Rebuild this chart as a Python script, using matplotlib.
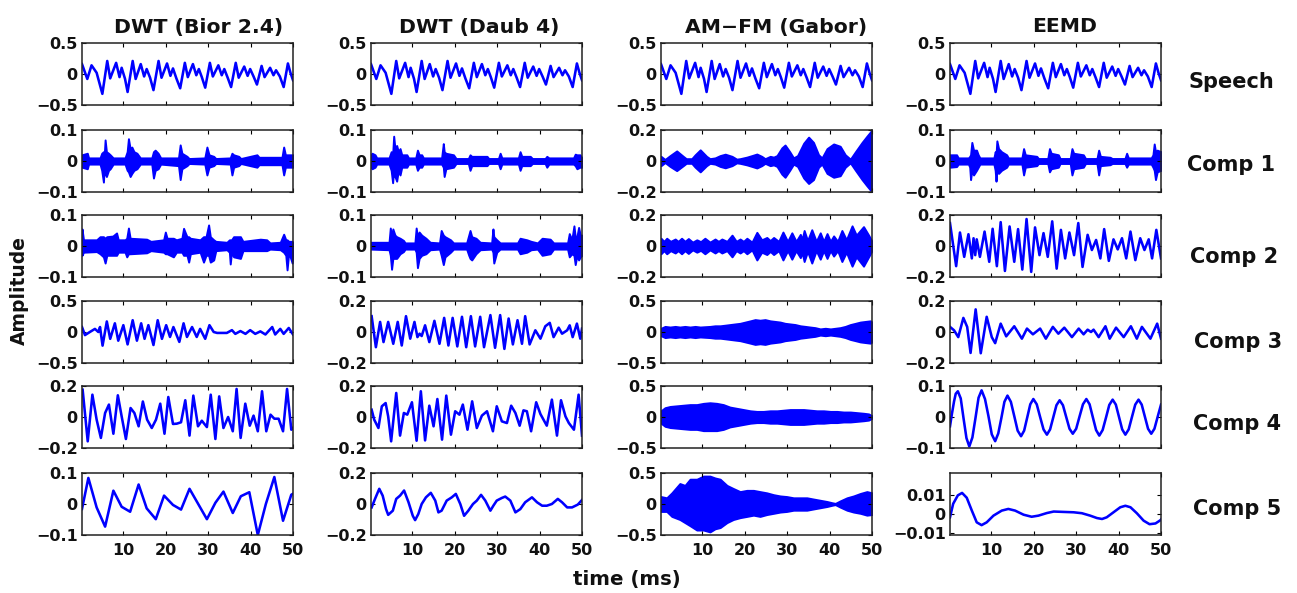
import numpy as np
import matplotlib
matplotlib.use("Agg")
import matplotlib.pyplot as plt

plt.rcParams['font.family'] = ['DejaVu Sans']
plt.rcParams['font.weight'] = 'bold'

# ---------------- data (time in ms, amplitude) ----------------
col_titles = ["DWT (Bior 2.4)", "DWT (Daub 4)", "AM\u2212FM (Gabor)", "EEMD"]
row_names = ["Speech", "Comp 1", "Comp 2", "Comp 3", "Comp 4", "Comp 5"]
x_ticks = [10, 20, 30, 40, 50]

speech = [(0.25, 0.16), (1.5, -0.08), (2.5, 0.14), (3.7, 0.02), (5.05, -0.32), (6.2, 0.21), (6.9, -0.07),
          (8.3, 0.18), (9.1, -0.05), (9.6, 0.10), (10.4, -0.08), (11.0, -0.29),
          (12.2, 0.21), (12.9, -0.08), (14.1, 0.16), (14.9, -0.04), (15.5, 0.08), (16.3, -0.06), (17.1, -0.26),
          (18.3, 0.21), (19.0, -0.06), (20.3, 0.17), (21.1, -0.03), (21.7, 0.09), (22.5, -0.07), (23.4, -0.23),
          (24.5, 0.18), (25.2, -0.05), (26.4, 0.16), (27.2, -0.02), (27.8, 0.08), (28.5, -0.05), (29.3, -0.22),
          (30.4, 0.18), (31.1, -0.04), (32.4, 0.14), (33.2, -0.02), (33.8, 0.08), (34.6, -0.06), (35.4, -0.21),
          (36.5, 0.18), (37.2, -0.06), (38.5, 0.12), (39.3, -0.03), (39.9, 0.08), (40.7, -0.04), (41.5, -0.17),
          (42.6, 0.13), (43.3, -0.05), (44.6, 0.10), (45.4, -0.02), (46.0, 0.06), (46.9, -0.04), (47.8, -0.21),
          (48.8, 0.17), (49.4, 0.02), (50.0, -0.10)]

# envelopes (time, upper, lower) for densely oscillating components
bior_c1 = [(0.25, 0.02, -0.02), (1.5, 0.025, -0.025), (1.8, 0.01, -0.01), (4.5, 0.01, -0.01), (4.9, 0.025, -0.03),
           (5.3, 0.03, -0.068), (5.5, 0.02, -0.02), (5.7, 0.068, -0.04), (6.0, 0.03, -0.05), (6.5, 0.025, -0.03),
           (6.9, 0.02, -0.025), (7.6, 0.01, -0.01), (10.4, 0.01, -0.01), (10.9, 0.03, -0.03), (11.2, 0.072, -0.035),
           (11.6, 0.04, -0.05), (12.0, 0.045, -0.04), (12.5, 0.03, -0.03), (13.2, 0.025, -0.025), (14.0, 0.01, -0.01),
           (16.7, 0.01, -0.01), (17.1, 0.03, -0.055), (17.5, 0.035, -0.03), (18.2, 0.025, -0.025), (18.8, 0.01, -0.01),
           (23.0, 0.01, -0.015), (23.4, 0.052, -0.06), (23.8, 0.025, -0.025), (25.0, 0.015, -0.015), (25.5, 0.008, -0.008),
           (29.2, 0.01, -0.01), (29.7, 0.045, -0.045), (30.2, 0.02, -0.02), (31.3, 0.015, -0.015), (31.8, 0.008, -0.008),
           (35.2, 0.01, -0.01), (35.6, 0.025, -0.045), (36.0, 0.02, -0.02), (37.2, 0.015, -0.015), (37.7, 0.008, -0.008),
           (41.5, 0.02, -0.02), (42.0, 0.012, -0.012), (45.4, 0.012, -0.012), (47.4, 0.012, -0.012), (47.8, 0.045, -0.045),
           (48.2, 0.02, -0.02), (50.0, 0.02, -0.02)]

bior_c2 = [(0.25, 0.055, -0.03), (0.6, 0.02, -0.02), (3.7, 0.02, -0.018), (4.5, 0.03, -0.025), (5.3, 0.03, -0.035),
           (5.7, 0.025, -0.055), (6.1, 0.03, -0.03), (7.5, 0.032, -0.03), (8.4, 0.042, -0.03), (8.8, 0.02, -0.02),
           (10.4, 0.02, -0.02), (10.8, 0.025, -0.035), (11.2, 0.058, -0.025), (11.6, 0.025, -0.025), (15.5, 0.022, -0.022),
           (16.5, 0.015, -0.015), (19.5, 0.02, -0.02), (19.9, 0.045, -0.025), (20.3, 0.025, -0.025), (21.8, 0.025, -0.035),
           (22.5, 0.02, -0.02), (23.8, 0.025, -0.02), (24.2, 0.057, -0.03), (24.6, 0.043, -0.03), (25.0, 0.03, -0.03),
           (25.4, 0.03, -0.052), (25.8, 0.025, -0.025), (28.1, 0.02, -0.02), (28.9, 0.03, -0.052), (29.5, 0.03, -0.03),
           (30.1, 0.068, -0.03), (30.5, 0.03, -0.052), (31.3, 0.02, -0.045), (31.8, 0.015, -0.015), (34.4, 0.012, -0.012),
           (35.0, 0.02, -0.02), (35.2, 0.02, -0.058), (35.5, 0.02, -0.02), (36.0, 0.03, -0.035), (37.6, 0.03, -0.04),
           (38.2, 0.015, -0.015), (42.3, 0.022, -0.015), (43.8, 0.02, -0.015), (44.6, 0.01, -0.01), (47.0, 0.012, -0.012),
           (47.8, 0.038, -0.02), (48.3, 0.02, -0.03), (48.6, 0.02, -0.077), (49.0, 0.015, -0.02), (49.8, 0.015, -0.055),
           (50.0, 0.01, -0.03)]

bior_c3 = [(0.25, 0.08), (0.95, -0.05), (2.1, 0.0), (3.3, 0.05), (4.1, 0.0), (4.5, 0.08), (5.1, -0.22), (6.1, 0.17),
           (6.9, -0.11), (8.0, 0.14), (8.8, -0.14), (10.0, 0.11), (11.0, -0.2), (12.2, 0.19), (13.2, -0.14), (14.2, 0.14),
           (15.0, -0.11), (15.9, 0.11), (17.1, -0.21), (18.1, 0.19), (19.1, -0.11), (20.1, 0.11), (21.0, -0.08),
           (21.8, 0.08), (23.2, -0.16), (24.2, 0.14), (25.0, -0.08), (26.2, 0.08), (27.3, -0.08), (28.1, 0.05),
           (29.3, -0.11), (30.3, 0.11), (31.3, 0.0), (32.1, -0.015), (34.4, -0.015), (35.6, 0.03), (36.4, -0.03),
           (37.6, 0.015), (38.8, -0.03), (39.9, 0.03), (41.1, -0.03), (42.3, 0.01), (43.5, -0.04), (45.1, 0.08),
           (45.8, -0.04), (47.0, 0.05), (47.8, -0.03), (49.0, 0.065), (50.0, -0.04)]

bior_c4 = [(0.4, 0.176), (1.6, -0.157), (2.7, 0.144), (3.7, -0.017), (4.7, -0.135), (5.7, 0.026), (6.6, 0.08),
           (7.65, -0.108), (8.7, 0.14), (9.6, 0.004), (10.6, -0.142), (11.7, 0.058), (12.6, 0.026), (13.6, -0.06),
           (14.6, 0.1), (15.6, -0.017), (16.7, -0.071), (17.7, -0.017), (18.7, 0.086), (19.7, -0.108), (20.6, 0.129),
           (21.7, -0.045), (22.6, -0.043), (23.6, -0.034), (24.6, 0.108), (25.6, -0.12), (26.5, 0.138), (27.6, -0.06),
           (28.5, -0.024), (29.7, -0.065), (30.6, 0.144), (31.7, -0.142), (32.6, 0.133), (33.6, -0.071), (34.7, 0.0),
           (35.8, -0.092), (36.7, 0.181), (37.65, -0.135), (38.75, 0.086), (39.8, -0.056), (40.7, 0.009), (41.7, -0.092),
           (42.7, 0.166), (43.7, -0.092), (44.7, 0.015), (45.6, -0.011), (46.6, -0.011), (47.65, -0.092), (48.6, 0.181),
           (49.6, -0.082), (50.0, -0.071)]

bior_c5 = [(0.25, -0.016), (1.75, 0.084), (3.7, -0.011), (5.7, -0.073), (7.65, 0.043), (9.6, -0.009), (11.6, -0.025),
           (13.6, 0.063), (15.5, -0.014), (17.65, -0.049), (19.6, 0.027), (21.7, -0.003), (23.6, -0.018), (25.6, 0.049),
           (27.65, 0.0), (29.7, -0.049), (31.7, 0.004), (33.6, 0.04), (35.8, -0.029), (37.7, 0.025), (39.7, 0.038),
           (41.7, -0.1), (43.6, 0.0), (45.6, 0.087), (47.65, -0.054), (49.6, 0.03), (50.0, 0.033)]

daub_c1 = [(0.25, 0.02, -0.02), (0.5, 0.025, -0.025), (1.2, 0.02, -0.02), (1.6, 0.01, -0.01), (4.5, 0.01, -0.01),
           (5.0, 0.03, -0.03), (5.35, 0.02, -0.07), (5.6, 0.08, -0.03), (5.9, 0.04, -0.05), (6.3, 0.05, -0.065),
           (6.7, 0.03, -0.03), (7.1, 0.04, -0.045), (7.5, 0.02, -0.02), (8.7, 0.02, -0.02), (9.1, 0.01, -0.01),
           (10.8, 0.01, -0.01), (11.2, 0.035, -0.03), (11.6, 0.02, -0.02), (12.2, 0.02, -0.02), (12.6, 0.01, -0.01),
           (16.9, 0.01, -0.01), (17.3, 0.056, -0.02), (17.5, 0.03, -0.05), (17.9, 0.025, -0.025), (19.7, 0.02, -0.02),
           (20.3, 0.008, -0.008), (23.2, 0.008, -0.008), (23.6, 0.02, -0.03), (24.0, 0.015, -0.015), (27.6, 0.015, -0.015),
           (28.0, 0.008, -0.008), (30.3, 0.008, -0.008), (30.7, 0.025, -0.025), (31.1, 0.01, -0.01), (35.0, 0.01, -0.01),
           (35.4, 0.03, -0.03), (35.8, 0.015, -0.015), (37.8, 0.015, -0.015), (38.3, 0.008, -0.008), (41.3, 0.008, -0.008),
           (41.7, 0.015, -0.02), (42.2, 0.01, -0.01), (48.0, 0.01, -0.01), (48.4, 0.022, -0.015), (48.8, 0.02, -0.025),
           (49.5, 0.02, -0.02), (50.0, 0.01, -0.02)]

daub_c2 = [(0.25, 0.012, -0.01), (4.5, 0.012, -0.012), (4.8, 0.058, -0.03), (5.1, 0.03, -0.075), (5.4, 0.055, -0.04),
           (5.9, 0.035, -0.04), (6.3, 0.03, -0.04), (7.1, 0.025, -0.025), (7.9, 0.018, -0.018), (8.3, 0.01, -0.01),
           (10.6, 0.01, -0.01), (10.9, 0.058, -0.02), (11.2, 0.03, -0.07), (11.6, 0.045, -0.04), (12.2, 0.035, -0.03),
           (13.2, 0.025, -0.025), (14.2, 0.012, -0.012), (16.4, 0.01, -0.01), (16.8, 0.05, -0.03), (17.3, 0.035, -0.06),
           (17.7, 0.03, -0.035), (19.0, 0.02, -0.02), (19.7, 0.01, -0.01), (22.8, 0.01, -0.01), (23.3, 0.035, -0.03),
           (23.6, 0.05, -0.04), (24.0, 0.03, -0.045), (25.0, 0.025, -0.025), (26.0, 0.012, -0.012), (28.7, 0.01, -0.01),
           (29.0, 0.055, -0.02), (29.2, 0.03, -0.055), (29.9, 0.02, -0.02), (30.7, 0.01, -0.01), (34.8, 0.01, -0.01),
           (35.4, 0.025, -0.025), (37.0, 0.02, -0.02), (38.0, 0.015, -0.012), (39.5, 0.01, -0.01), (40.6, 0.025, -0.03),
           (42.5, 0.022, -0.025), (43.3, 0.01, -0.01), (46.6, 0.01, -0.01), (47.0, 0.04, -0.035), (47.6, 0.02, -0.025),
           (48.1, 0.065, -0.03), (48.4, 0.03, -0.06), (48.8, 0.03, -0.03), (49.2, 0.06, -0.045), (49.6, 0.035, -0.035),
           (50.0, 0.035, -0.03)]

daub_c3 = [(0.4, 0.102), (1.4, -0.098), (2.4, 0.065), (3.2, -0.065), (4.3, 0.065), (5.5, -0.076), (6.55, 0.065),
           (7.5, -0.087), (8.5, 0.102), (9.5, -0.043), (10.5, 0.065), (11.2, -0.033), (11.7, -0.011), (12.2, -0.026),
           (13.0, 0.043), (14.0, -0.065), (15.2, 0.072), (16.4, -0.076), (17.5, 0.091), (18.5, -0.087), (19.5, 0.091),
           (20.6, -0.093), (21.7, 0.098), (22.7, -0.098), (23.8, 0.102), (24.8, -0.093), (26.0, 0.098), (26.9, -0.098),
           (28.4, 0.109), (29.5, -0.102), (30.7, 0.109), (31.7, -0.109), (32.7, 0.087), (33.7, -0.08), (34.8, 0.076),
           (35.85, -0.076), (36.6, 0.102), (37.65, -0.08), (39.0, 0.011), (40.2, -0.043), (41.35, 0.037), (42.4, 0.059),
           (43.3, -0.033), (44.5, 0.028), (45.3, -0.011), (46.5, 0.011), (47.1, 0.043), (47.8, -0.033), (48.8, 0.054),
           (49.6, -0.043), (50.0, 0.022)]

daub_c4 = [(0.4, 0.047), (1.0, -0.017), (2.0, -0.071), (2.8, 0.069), (3.7, 0.09), (4.3, 0.004), (5.0, -0.157),
           (6.2, 0.155), (7.1, -0.12), (8.0, 0.026), (8.8, 0.015), (9.9, 0.095), (11.0, -0.153), (12.0, 0.166),
           (13.0, -0.151), (14.0, 0.073), (15.0, -0.06), (15.9, 0.116), (17.0, -0.146), (18.0, 0.138), (19.1, -0.114),
           (20.1, 0.037), (21.1, 0.015), (21.9, 0.08), (23.0, -0.082), (24.1, 0.101), (25.2, -0.071), (26.4, 0.009),
           (27.6, 0.037), (29.0, -0.092), (29.9, 0.069), (31.1, -0.028), (32.3, -0.039), (33.3, 0.073), (34.3, 0.026),
           (35.3, -0.056), (36.2, 0.043), (37.0, 0.037), (38.0, -0.092), (39.2, 0.095), (40.2, 0.019), (41.7, -0.056),
           (42.9, 0.112), (44.1, -0.12), (45.05, 0.108), (46.1, 0.004), (46.9, -0.039), (48.1, -0.082), (49.2, 0.144),
           (50.0, -0.12)]

daub_c5 = [(0.4, -0.022), (1.2, 0.033), (2.2, 0.098), (3.0, 0.054), (3.8, -0.033), (4.3, -0.07), (5.4, -0.043),
           (6.2, 0.033), (7.1, 0.054), (8.05, 0.087), (9.1, 0.011), (10.1, -0.076), (10.65, -0.104), (11.4, -0.065),
           (12.2, 0.0), (13.2, 0.043), (14.35, 0.072), (15.4, 0.022), (16.15, -0.054), (16.9, -0.043), (18.1, 0.022),
           (19.3, 0.043), (20.25, 0.065), (21.3, 0.0), (22.2, -0.076), (23.2, -0.043), (24.3, 0.0), (25.2, 0.022),
           (26.2, 0.059), (27.2, 0.022), (28.4, -0.043), (29.1, -0.011), (29.9, 0.022), (31.1, 0.039), (31.9, 0.048),
           (33.1, 0.022), (34.3, -0.054), (35.45, -0.033), (36.6, 0.011), (38.2, 0.043), (39.4, 0.011), (40.6, -0.011),
           (41.7, -0.011), (42.9, 0.0), (44.3, 0.033), (45.3, 0.011), (46.5, -0.022), (47.65, -0.022), (49.0, -0.004),
           (50.0, 0.026)]

amfm_c1 = [(0.25, 0.03, -0.03), (1.2, 0.01, -0.01), (2.4, 0.035, -0.035), (3.95, 0.065, -0.062), (5.5, 0.03, -0.03),
           (6.2, 0.015, -0.015), (7.5, 0.015, -0.015), (8.3, 0.04, -0.04), (9.5, 0.072, -0.07), (11.0, 0.03, -0.03),
           (11.8, 0.015, -0.015), (13.0, 0.02, -0.02), (14.2, 0.035, -0.035), (15.4, 0.044, -0.044), (17.0, 0.03, -0.03),
           (18.1, 0.012, -0.012), (18.9, 0.015, -0.015), (20.5, 0.025, -0.025), (21.7, 0.035, -0.035), (22.85, 0.045, -0.045),
           (24.0, 0.03, -0.03), (24.8, 0.015, -0.015), (26.0, 0.03, -0.03), (26.8, 0.025, -0.025), (27.6, 0.035, -0.035),
           (28.75, 0.085, -0.085), (29.5, 0.103, -0.105), (30.6, 0.06, -0.06), (31.5, 0.02, -0.02), (32.45, 0.035, -0.035),
           (33.9, 0.115, -0.11), (35.05, 0.154, -0.145), (36.2, 0.12, -0.12), (37.4, 0.04, -0.04), (38.2, 0.02, -0.02),
           (39.4, 0.08, -0.08), (40.95, 0.11, -0.105), (42.5, 0.095, -0.095), (43.7, 0.04, -0.04), (44.9, 0.012, -0.012),
           (46.1, 0.06, -0.06), (47.65, 0.12, -0.12), (48.8, 0.16, -0.16), (50.0, 0.2, -0.2)]

amfm_c2 = [(0.25, 0.05, -0.05), (0.95, 0.03, -0.03), (1.6, 0.05, -0.05), (2.5, 0.03, -0.03), (3.6, 0.045, -0.045),
           (4.3, 0.03, -0.03), (5.1, 0.05, -0.05), (5.9, 0.03, -0.03), (6.7, 0.048, -0.048), (7.7, 0.025, -0.025),
           (8.7, 0.04, -0.04), (9.6, 0.028, -0.028), (10.6, 0.05, -0.05), (11.8, 0.025, -0.025), (13.0, 0.045, -0.045),
           (13.8, 0.03, -0.03), (14.6, 0.045, -0.045), (15.8, 0.03, -0.03), (17.0, 0.07, -0.07), (18.0, 0.03, -0.03),
           (18.9, 0.045, -0.045), (19.7, 0.03, -0.03), (20.5, 0.05, -0.05), (21.7, 0.025, -0.025), (22.85, 0.088, -0.09),
           (24.0, 0.04, -0.04), (25.2, 0.055, -0.055), (26.0, 0.035, -0.035), (26.8, 0.055, -0.055), (28.0, 0.03, -0.03),
           (29.0, 0.09, -0.09), (30.1, 0.03, -0.03), (31.1, 0.085, -0.085), (32.1, 0.03, -0.03), (33.1, 0.075, -0.075),
           (33.5, 0.04, -0.04), (34.0, 0.1, -0.1), (34.8, 0.035, -0.035), (35.8, 0.105, -0.11), (36.85, 0.03, -0.03),
           (37.8, 0.085, -0.085), (38.6, 0.03, -0.03), (39.4, 0.08, -0.08), (40.2, 0.03, -0.03), (40.95, 0.065, -0.065),
           (41.9, 0.03, -0.03), (42.9, 0.1, -0.1), (43.95, 0.04, -0.04), (45.3, 0.13, -0.13), (46.3, 0.07, -0.07),
           (48.0, 0.125, -0.13), (49.2, 0.07, -0.07), (50.0, 0.03, -0.03)]

amfm_c3 = [(0.25, 0.06, -0.06), (1.2, 0.09, -0.09), (2.4, 0.08, -0.08), (3.6, 0.09, -0.09), (4.7, 0.08, -0.08),
           (5.9, 0.09, -0.09), (7.1, 0.08, -0.08), (8.3, 0.09, -0.09), (9.5, 0.08, -0.08), (10.6, 0.085, -0.085),
           (11.8, 0.09, -0.09), (13.0, 0.1, -0.1), (14.2, 0.1, -0.1), (15.4, 0.11, -0.11), (16.55, 0.12, -0.12),
           (17.7, 0.13, -0.13), (18.9, 0.14, -0.14), (20.1, 0.16, -0.16), (21.3, 0.18, -0.18), (22.45, 0.2, -0.2),
           (23.6, 0.19, -0.19), (24.8, 0.2, -0.2), (26.0, 0.18, -0.18), (27.2, 0.17, -0.17), (28.35, 0.16, -0.16),
           (29.5, 0.14, -0.14), (30.7, 0.13, -0.13), (31.9, 0.12, -0.12), (33.1, 0.1, -0.1), (34.3, 0.09, -0.09),
           (35.4, 0.08, -0.08), (36.6, 0.07, -0.07), (37.8, 0.05, -0.05), (39.0, 0.06, -0.06), (40.2, 0.05, -0.05),
           (41.35, 0.06, -0.06), (42.5, 0.07, -0.07), (43.7, 0.09, -0.09), (44.9, 0.12, -0.12), (46.1, 0.14, -0.14),
           (47.25, 0.16, -0.16), (48.4, 0.17, -0.17), (49.6, 0.18, -0.18), (50.0, 0.16, -0.16)]

amfm_c4 = [(0.25, 0.1, -0.1), (1.2, 0.15, -0.15), (2.4, 0.17, -0.17), (3.95, 0.18, -0.18), (5.5, 0.19, -0.19),
           (7.1, 0.2, -0.2), (8.7, 0.2, -0.2), (10.25, 0.22, -0.22), (11.8, 0.23, -0.22), (13.4, 0.22, -0.22),
           (14.95, 0.2, -0.2), (16.5, 0.16, -0.16), (18.1, 0.14, -0.14), (19.7, 0.12, -0.12), (21.3, 0.1, -0.1),
           (22.85, 0.09, -0.09), (24.4, 0.09, -0.09), (26.0, 0.1, -0.1), (27.6, 0.1, -0.1), (29.15, 0.11, -0.11),
           (30.7, 0.12, -0.12), (32.3, 0.12, -0.12), (33.9, 0.12, -0.12), (35.45, 0.11, -0.11), (37.0, 0.1, -0.1),
           (38.6, 0.1, -0.1), (40.2, 0.09, -0.09), (41.75, 0.09, -0.09), (43.3, 0.08, -0.08), (44.9, 0.08, -0.08),
           (46.5, 0.07, -0.07), (48.05, 0.06, -0.06), (49.2, 0.05, -0.05), (50.0, 0.02, -0.02)]

amfm_c5 = [(0.25, 0.12, -0.12), (1.6, 0.1, -0.12), (2.8, 0.18, -0.2), (4.7, 0.33, -0.25), (5.9, 0.3, -0.3),
           (7.1, 0.4, -0.35), (8.7, 0.4, -0.42), (10.25, 0.45, -0.42), (11.8, 0.45, -0.45), (13.0, 0.42, -0.4),
           (14.2, 0.4, -0.38), (15.8, 0.3, -0.3), (17.3, 0.25, -0.25), (18.9, 0.2, -0.22), (20.5, 0.22, -0.2),
           (22.05, 0.22, -0.18), (23.6, 0.2, -0.2), (25.2, 0.18, -0.17), (26.8, 0.15, -0.15), (28.35, 0.13, -0.13),
           (29.9, 0.12, -0.12), (31.5, 0.1, -0.1), (33.1, 0.1, -0.1), (34.65, 0.1, -0.1), (36.2, 0.08, -0.08),
           (37.8, 0.06, -0.06), (39.4, 0.04, -0.04), (40.6, 0.02, -0.02), (41.35, 0.01, -0.01), (42.5, 0.05, -0.05),
           (44.1, 0.1, -0.1), (45.65, 0.13, -0.13), (47.25, 0.17, -0.15), (48.8, 0.2, -0.18), (50.0, 0.18, -0.17)]

eemd_c1 = [(0.25, 0.02, -0.02), (1.8, 0.02, -0.018), (2.2, 0.01, -0.01), (4.6, 0.01, -0.01), (4.9, 0.015, -0.02),
           (5.1, 0.02, -0.06), (5.4, 0.06, -0.03), (5.8, 0.035, -0.045), (6.5, 0.035, -0.03), (6.9, 0.02, -0.02),
           (7.3, 0.01, -0.01), (10.6, 0.01, -0.01), (10.9, 0.03, -0.03), (11.1, 0.02, -0.065), (11.3, 0.065, -0.03),
           (11.7, 0.04, -0.04), (12.4, 0.03, -0.03), (13.6, 0.02, -0.02), (14.0, 0.01, -0.01), (17.2, 0.01, -0.01),
           (17.6, 0.04, -0.045), (18.0, 0.02, -0.02), (20.7, 0.015, -0.015), (21.1, 0.008, -0.008), (23.3, 0.008, -0.008),
           (23.7, 0.04, -0.035), (24.1, 0.025, -0.025), (25.8, 0.02, -0.02), (26.2, 0.008, -0.008), (28.6, 0.008, -0.008),
           (29.0, 0.04, -0.045), (29.4, 0.025, -0.025), (31.7, 0.02, -0.02), (32.2, 0.008, -0.008), (34.9, 0.008, -0.008),
           (35.3, 0.035, -0.045), (35.7, 0.015, -0.015), (38.0, 0.012, -0.012), (38.5, 0.008, -0.008), (41.5, 0.008, -0.008),
           (41.9, 0.025, -0.02), (42.3, 0.01, -0.01), (47.7, 0.01, -0.01), (48.1, 0.02, -0.02), (48.4, 0.055, -0.03),
           (48.7, 0.03, -0.06), (49.1, 0.035, -0.035), (50.0, 0.03, -0.03)]

eemd_c2 = [(0.25, 0.148), (1.7, -0.13), (2.6, 0.087), (3.6, -0.07), (4.6, 0.076), (5.4, -0.08), (5.8, 0.05),
           (6.2, -0.059), (6.55, 0.043), (7.3, -0.07), (8.4, 0.093), (9.5, -0.102), (10.3, 0.111), (11.3, -0.13),
           (12.2, 0.154), (13.2, -0.161), (14.3, 0.126), (15.4, -0.102), (16.3, 0.109), (17.3, -0.152), (18.3, 0.174),
           (19.4, -0.167), (20.3, 0.12), (21.35, -0.059), (22.3, 0.083), (23.3, -0.07), (24.35, 0.159), (25.4, -0.146),
           (26.4, 0.104), (27.4, -0.08), (28.4, 0.087), (29.5, -0.059), (30.5, 0.148), (31.5, -0.135), (32.7, 0.072),
           (33.7, -0.026), (34.7, 0.039), (35.7, -0.08), (36.6, 0.109), (37.7, -0.096), (38.8, 0.043), (39.8, -0.022),
           (40.8, 0.05), (41.8, -0.08), (42.8, 0.093), (43.95, -0.091), (45.1, 0.05), (46.1, -0.026), (47.1, 0.043),
           (47.9, -0.08), (48.9, 0.104), (50.0, -0.08)]

eemd_c3 = [(0.25, 0.033), (1.2, 0.011), (2.2, -0.033), (3.4, 0.091), (4.3, 0.033), (5.1, -0.135), (6.3, 0.146),
           (7.5, -0.137), (8.9, 0.098), (10.1, -0.033), (10.9, -0.072), (12.2, 0.054), (13.5, -0.028), (15.4, 0.037),
           (17.2, -0.043), (18.4, 0.022), (19.8, -0.015), (21.5, 0.022), (22.85, -0.043), (24.5, 0.033), (25.8, -0.011),
           (27.2, 0.028), (29.0, -0.033), (30.6, 0.022), (31.75, -0.015), (32.7, 0.015), (33.5, 0.0), (34.1, 0.015),
           (35.3, -0.033), (36.9, 0.037), (37.9, -0.043), (39.4, 0.028), (41.2, -0.033), (42.9, 0.037), (44.3, -0.043),
           (45.5, 0.033), (47.5, -0.043), (49.1, 0.054), (50.0, -0.043)]

eemd_c4 = [(0.25, -0.03), (0.7, 0.01), (1.2, 0.05), (1.6, 0.075), (2.1, 0.083), (2.78, 0.06), (3.45, -0.005),
           (4.13, -0.068), (4.8, -0.095), (5.53, -0.066), (6.25, -0.004), (6.98, 0.062), (7.7, 0.086), (8.5, 0.058),
           (9.3, 0.004), (10.1, -0.056), (10.9, -0.078), (11.63, -0.053), (12.35, -0.004), (13.08, 0.049), (13.8, 0.069),
           (14.6, 0.049), (15.4, 0.003), (16.2, -0.044), (17.0, -0.062), (17.73, -0.044), (18.45, -0.002), (19.18, 0.041),
           (19.9, 0.058), (20.7, 0.041), (21.5, 0.0), (22.3, -0.04), (23.1, -0.057), (23.85, -0.04), (24.6, -0.001),
           (25.35, 0.038), (26.1, 0.054), (26.88, 0.038), (27.65, 0.0), (28.43, -0.038), (29.2, -0.054), (30.0, -0.038),
           (30.8, 0.002), (31.6, 0.041), (32.4, 0.058), (33.16, 0.041), (33.93, -0.001), (34.69, -0.042), (35.45, -0.06),
           (36.24, -0.042), (37.03, -0.002), (37.81, 0.039), (38.6, 0.056), (39.35, 0.04), (40.1, 0.0), (40.85, -0.04),
           (41.6, -0.057), (42.38, -0.04), (43.15, 0.0), (43.93, 0.04), (44.7, 0.056), (45.45, 0.04), (46.2, 0.001),
           (46.95, -0.038), (47.7, -0.054), (48.45, -0.038), (49.2, 0.0), (50.0, 0.04)]

eemd_c5 = [(0.25, -0.0018), (1.0, 0.0055), (2.1, 0.01), (3.1, 0.0113), (4.2, 0.0087), (5.4, 0.0018), (6.55, -0.0045),
           (7.7, -0.006), (8.9, -0.0045), (10.5, -0.0009), (12.45, 0.0018), (14.0, 0.0027), (15.6, 0.0018),
           (17.6, -0.0004), (19.5, -0.0015), (21.1, -0.0009), (23.1, 0.0005), (24.7, 0.0013), (27.0, 0.0011),
           (29.4, 0.0009), (31.35, 0.0004), (33.3, -0.0009), (34.9, -0.0022), (36.1, -0.0027), (37.2, -0.0018),
           (38.8, 0.0009), (40.4, 0.0036), (41.6, 0.0044), (42.8, 0.0036), (44.3, 0.0004), (45.9, -0.0036),
           (47.3, -0.0055), (48.7, -0.0051), (49.9, -0.0033), (50.0, -0.0030)]

columns = [
    [speech, bior_c1, bior_c2, bior_c3, bior_c4, bior_c5],
    [speech, daub_c1, daub_c2, daub_c3, daub_c4, daub_c5],
    [speech, amfm_c1, amfm_c2, amfm_c3, amfm_c4, amfm_c5],
    [speech, eemd_c1, eemd_c2, eemd_c3, eemd_c4, eemd_c5],
]
y_limits = [
    [(-0.5, 0.5), (-0.1, 0.1), (-0.1, 0.1), (-0.5, 0.5), (-0.2, 0.2), (-0.1, 0.1)],
    [(-0.5, 0.5), (-0.1, 0.1), (-0.1, 0.1), (-0.2, 0.2), (-0.2, 0.2), (-0.2, 0.2)],
    [(-0.5, 0.5), (-0.2, 0.2), (-0.2, 0.2), (-0.5, 0.5), (-0.5, 0.5), (-0.5, 0.5)],
    [(-0.5, 0.5), (-0.1, 0.1), (-0.2, 0.2), (-0.2, 0.2), (-0.1, 0.1), (-0.0113, 0.022)],
]
y_ticks = [
    [[-0.5, 0, 0.5], [-0.1, 0, 0.1], [-0.1, 0, 0.1], [-0.5, 0, 0.5], [-0.2, 0, 0.2], [-0.1, 0, 0.1]],
    [[-0.5, 0, 0.5], [-0.1, 0, 0.1], [-0.1, 0, 0.1], [-0.2, 0, 0.2], [-0.2, 0, 0.2], [-0.2, 0, 0.2]],
    [[-0.5, 0, 0.5], [-0.2, 0, 0.2], [-0.2, 0, 0.2], [-0.5, 0, 0.5], [-0.5, 0, 0.5], [-0.5, 0, 0.5]],
    [[-0.5, 0, 0.5], [-0.1, 0, 0.1], [-0.2, 0, 0.2], [-0.2, 0, 0.2], [-0.1, 0, 0.1], [-0.01, 0, 0.01]],
]

# ---------------- layout (pixels) ----------------
W, H = 1297, 593
col_left = [82, 371, 661, 950]
ax_w = 211
row_top = [43, 130, 215, 301, 386, 473]
ax_h = 62
title_x = [199, 479, 776, 1065]
row_label_pos = [(1231, 88), (1231, 171), (1234, 263), (1238, 348), (1237, 430), (1237, 515)]

BLUE = (0, 0, 1)
fig = plt.figure(figsize=(W / 100, H / 100), dpi=100)


def fmt(v):
    s = ('%g' % v)
    return s.replace('-', '\u2212')


for c in range(4):
    for r in range(6):
        rect = [col_left[c] / W, 1 - (row_top[r] + ax_h) / H, ax_w / W, ax_h / H]
        ax = fig.add_axes(rect)
        arr = np.array(columns[c][r], dtype=float)
        if arr.shape[1] == 2:
            ax.plot(arr[:, 0], arr[:, 1], color=BLUE, lw=1.85, solid_joinstyle='round')
        else:
            ax.fill_between(arr[:, 0], arr[:, 2], arr[:, 1], color=BLUE, lw=1.4)
        ax.set_xlim(0.25, 50)
        ax.set_ylim(*y_limits[c][r])
        ax.set_xticks(x_ticks)
        yt = y_ticks[c][r]
        ax.set_yticks(yt)
        ax.set_yticklabels([fmt(v) for v in yt])
        if r == 5:
            ax.set_xticklabels([str(v) for v in x_ticks])
        else:
            ax.set_xticklabels([])
        ax.tick_params(direction='in', top=True, right=True, length=3, width=0.8,
                       labelsize=11.5, colors='black')
        ax.tick_params(axis='x', pad=6)
        ax.tick_params(axis='y', pad=3)
        for lab in ax.get_xticklabels() + ax.get_yticklabels():
            lab.set_fontweight('bold')
            lab.set_color('#111111')
        for sp in ax.spines.values():
            sp.set_linewidth(1.1)
            sp.set_color('#222222')

for c in range(4):
    fig.text(title_x[c] / W, 1 - 32.5 / H, col_titles[c], ha='center', va='baseline',
             fontsize=14.7, fontweight='bold', color='#111111')

for r in range(6):
    x, y = row_label_pos[r]
    fig.text(x / W, 1 - y / H, row_names[r], ha='center', va='baseline',
             fontsize=15, fontweight='bold', color='#111111')

fig.text(19 / W, 1 - 290 / H, "Amplitude", rotation=90, ha='center', va='center',
         fontsize=13.5, fontweight='bold', color='#111111')
fig.text(627 / W, 1 - 580 / H, "time (ms)", ha='center', va='center',
         fontsize=14.2, fontweight='bold', color='#111111')

fig.savefig("out.png", dpi=100)
